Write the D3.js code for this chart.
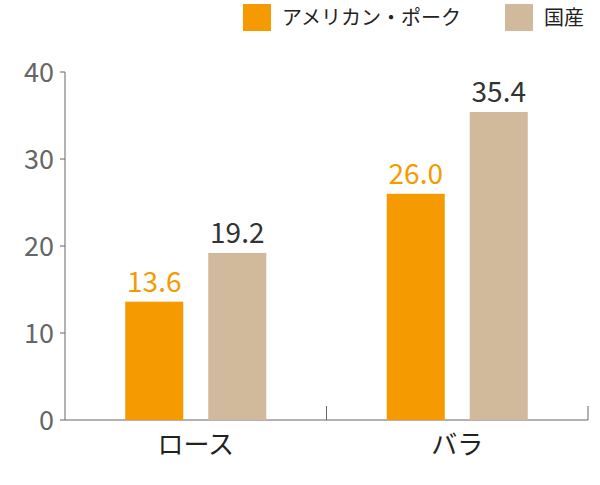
<!DOCTYPE html>
<html><head><meta charset="utf-8">
<script src="https://cdn.jsdelivr.net/npm/d3@7"></script>
<style>body{margin:0;background:#fff}</style></head>
<body><svg id="c" width="600" height="485"></svg>
<script>
const categories=["ロース","バラ"];
const seriesNames=["アメリカン・ポーク","国産"];
const american=[13.6,26.0];
const domestic=[19.2,35.4];
const yTicks=[0,10,20,30,40];
const colors=["#f59a00","#d1b99b"];
const labelColors=["#f59a00","#333333"];
const font="'Noto Sans CJK JP','Noto Sans',sans-serif";
const svg=d3.select("#c");
const x=d3.scaleBand().domain(categories).range([65,588]).paddingInner(0).paddingOuter(0);
const y=d3.scaleLinear().domain([0,40]).range([420,72]);
const sub=d3.scaleBand().domain([0,1]).range([65,202]).paddingInner(0.3).paddingOuter(0);
// axes
svg.append("line").attr("x1",65).attr("x2",65).attr("y1",y(40)).attr("y2",y(0)).attr("stroke","#666");
svg.append("line").attr("x1",65).attr("x2",588).attr("y1",y(0)).attr("y2",y(0)).attr("stroke","#666");
yTicks.forEach(t=>{
  svg.append("line").attr("x1",60).attr("x2",65).attr("y1",y(t)).attr("y2",y(t)).attr("stroke","#666");
  svg.append("text").attr("x",54).attr("y",y(t)).attr("dy","0.36em").attr("text-anchor","end")
    .attr("font-family",font).attr("font-size",27).attr("fill","#666").text(t);
});
categories.forEach(c=>{
  const e=x(c)+x.bandwidth();
  svg.append("line").attr("x1",e).attr("x2",e).attr("y1",y(0)-14).attr("y2",y(0)).attr("stroke","#666");
  svg.append("text").attr("x",x(c)+x.bandwidth()/2).attr("y",454).attr("text-anchor","middle")
    .attr("font-family",font).attr("font-size",26).attr("fill","#222").text(c);
});
const bw=58, gap=25;
[american,domestic].forEach((vals,s)=>{
  categories.forEach((c,i)=>{
    const cx=x(c)+x.bandwidth()/2;
    const bx=s===0?cx-gap/2-bw:cx+gap/2;
    svg.append("rect").attr("x",bx).attr("width",bw).attr("y",y(vals[i])).attr("height",y(0)-y(vals[i])).attr("fill",colors[s]);
    svg.append("text").attr("x",bx+bw/2).attr("y",y(vals[i])-10).attr("text-anchor","middle")
      .attr("font-family",font).attr("font-size",28).attr("fill",labelColors[s]).text(vals[i].toFixed(1));
  });
});
// legend
const lx=[243,505];
seriesNames.forEach((n,s)=>{
  svg.append("rect").attr("x",lx[s]).attr("y",4).attr("width",28).attr("height",27).attr("fill",colors[s]);
  svg.append("text").attr("x",lx[s]+39).attr("y",25).attr("font-family",font).attr("font-size",20).attr("fill","#222").text(n);
});
</script></body></html>
